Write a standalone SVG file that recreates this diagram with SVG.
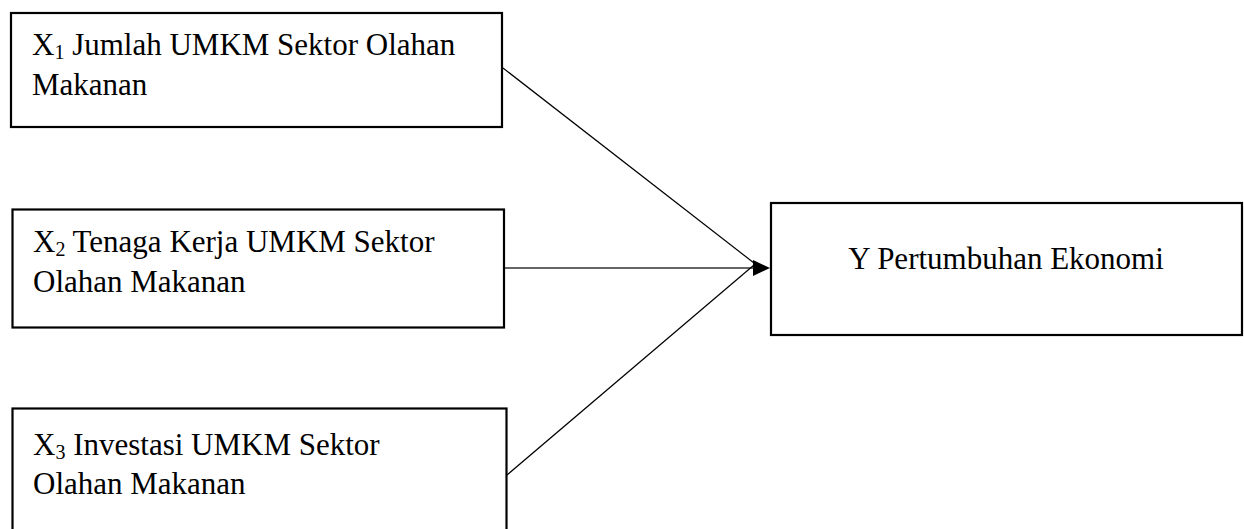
<svg xmlns="http://www.w3.org/2000/svg" width="1244" height="529" viewBox="0 0 1244 529">
<style>
.box{fill:#fff;stroke:#000;stroke-width:2.2}
.t{font-family:"Liberation Serif","Times New Roman",serif;font-size:31px;fill:#000}
.sub{font-size:20px}
.ln{stroke:#000;stroke-width:1.2;fill:none}
</style>
<rect width="1244" height="529" fill="#fff"/>
<g id="connectors">
<line class="ln" x1="503" y1="68" x2="754" y2="263"/>
<line class="ln" x1="505" y1="268" x2="756" y2="268" style="stroke:#333;stroke-width:1.6"/>
<line class="ln" x1="507" y1="475" x2="754" y2="265"/>
<polygon points="753,260 770,268 753,276" fill="#000"/>
</g>
<g id="x1">
<rect class="box" x="11" y="13" width="491" height="114"/>
<text class="t" x="32" y="55">X<tspan class="sub" dy="4">1</tspan><tspan dy="-4"> Jumlah UMKM Sektor Olahan</tspan></text>
<text class="t" x="32" y="95">Makanan</text>
</g>
<g id="x2">
<rect class="box" x="12.5" y="209.5" width="491.5" height="118"/>
<text class="t" x="33" y="252">X<tspan class="sub" dy="4">2</tspan><tspan dy="-4"> Tenaga Kerja UMKM Sektor</tspan></text>
<text class="t" x="33" y="292">Olahan Makanan</text>
</g>
<g id="x3">
<rect class="box" x="12.5" y="408.5" width="494" height="140"/>
<text class="t" x="33" y="455">X<tspan class="sub" dy="4">3</tspan><tspan dy="-4"> Investasi UMKM Sektor</tspan></text>
<text class="t" x="33" y="494">Olahan Makanan</text>
</g>
<g id="y">
<rect class="box" x="771" y="203" width="471" height="132"/>
<text class="t" x="1006" y="269" text-anchor="middle">Y Pertumbuhan Ekonomi</text>
</g>
</svg>
